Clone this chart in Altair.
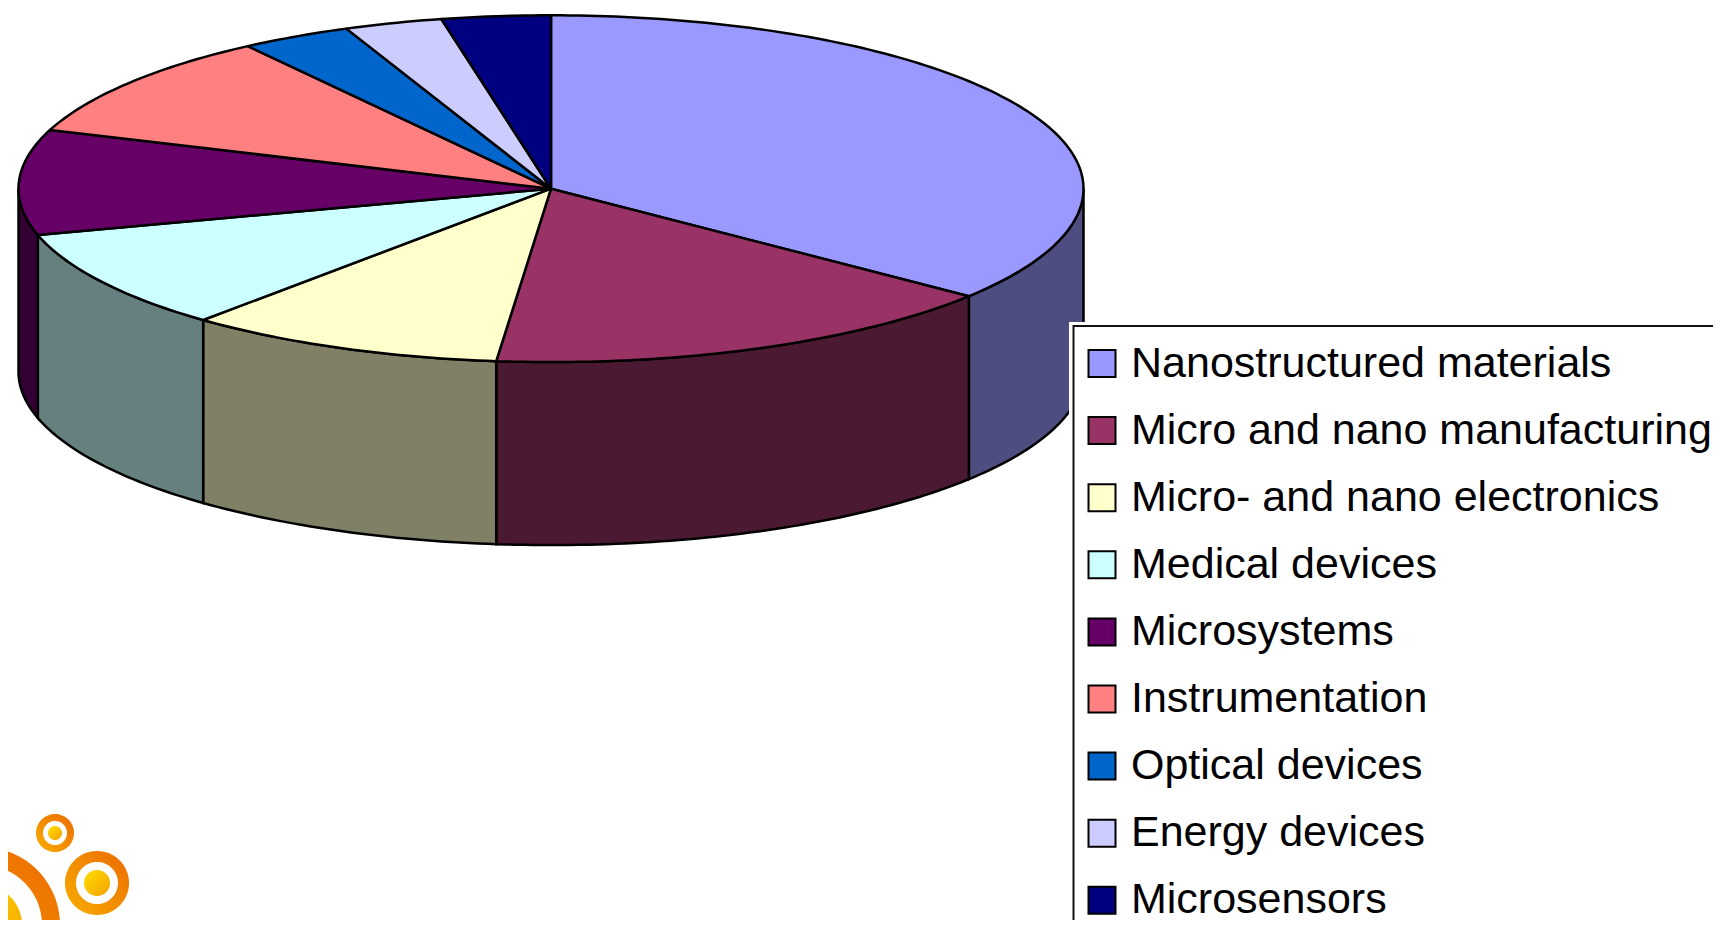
import math
import altair as alt

categories = ["Nanostructured materials", "Micro and nano manufacturing", "Micro- and nano electronics",
              "Medical devices", "Microsystems", "Instrumentation", "Optical devices", "Energy devices", "Microsensors"]
shares = [35.64, 16.0, 9.69, 9.37, 9.8, 9.86, 3.36, 2.98, 3.3]
top_colors = ["#9999FF", "#993366", "#FFFFCC", "#CCFFFF", "#660066", "#FF8080", "#0066CC", "#CCCCFF", "#000080"]
side_colors = ["#4D4D80", "#4C1933", "#808066", "#668080", "#330033", "#804040", "#003366", "#666680", "#000040"]

W, H = 1705, 912
OX, OY = 8, 8                 # page margin
CX, CY, RX, RY, DEPTH = 551 - OX, 188.7 - OY, 532.5, 173.4, 183


def pt(deg, dy=0.0):
    t = math.radians(deg)
    return [CX + RX * math.sin(t), CY - RY * math.cos(t) + dy]


def arc(a, b, dy=0.0):
    n = max(2, int(abs(b - a)) + 1)
    return [pt(a + (b - a) * i / n, dy) for i in range(n + 1)]


def feature(ring, **props):
    return {"type": "Feature", "properties": props,
            "geometry": {"type": "Polygon", "coordinates": [ring + [ring[0]]]}}


tops, walls = [], []
start = 0.0
for name, share, side in zip(categories, shares, side_colors):
    end = start + share * 3.6
    tops.append(feature([[CX, CY]] + arc(start, end), name=name))
    a, b = max(start, 90), min(end, 270)
    if b > a:
        walls.append(feature(arc(a, b) + arc(b, a, DEPTH), side=side))
    start = end


def circle(cx, cy, r):
    cx, cy = cx - OX, cy - OY
    return feature([[cx + r * math.cos(math.radians(d)), cy + r * math.sin(math.radians(d))] for d in range(0, 360, 4)])


def shapes(features):
    return alt.Chart(alt.Data(values=features)).project(type="identity", scale=1, translate=[0, 0])


ORANGE = alt.Gradient(gradient="linear", x1=1, y1=0, x2=0, y2=1,
                      stops=[alt.GradientStop(color="#EC6A00", offset=0), alt.GradientStop(color="#F8AE00", offset=1)])
YELLOW = alt.Gradient(gradient="linear", x1=0, y1=0, x2=1, y2=1,
                      stops=[alt.GradientStop(color="#FFE000", offset=0), alt.GradientStop(color="#F4A000", offset=1)])

logo_centres = [(55, 833), (97, 883), (-18, 925)]
logo_outer = [19, 32, 78]
logo_white = [12, 21, 60]
logo_inner = [7, 13, 40]

logo_layers = []
for (cx, cy), ro, rw, ri in zip(logo_centres, logo_outer, logo_white, logo_inner):
    logo_layers.append(shapes([circle(cx, cy, ro)]).mark_geoshape(fill=ORANGE, strokeWidth=0))
    logo_layers.append(shapes([circle(cx, cy, rw)]).mark_geoshape(fill="white", strokeWidth=0))
    logo_layers.append(shapes([circle(cx, cy, ri)]).mark_geoshape(fill=YELLOW, strokeWidth=0))

wall_layer = shapes(walls).mark_geoshape(stroke="black", strokeWidth=2.5).encode(
    fill=alt.Fill("properties.side:N", scale=None))

halo = [[1069 - OX, 322 - OY], [1721 - OX, 322 - OY], [1721 - OX, 928 - OY], [1069 - OX, 928 - OY]]
halo_layer = shapes([feature(halo)]).mark_geoshape(fill="white", strokeWidth=0)

top_layer = shapes(tops).mark_geoshape(stroke="black", strokeWidth=2.5, strokeJoin="round").encode(
    color=alt.Color(
        "properties.name:N",
        sort=categories,
        scale=alt.Scale(domain=categories, range=top_colors),
        legend=alt.Legend(
            title=None, orient="none", legendX=1073.5 - OX, legendY=326 - OY, zindex=1,
            fillColor="white", strokeColor="#111111", padding=16,
            symbolType="square", symbolSize=729, symbolStrokeColor="black", symbolStrokeWidth=2,
            symbolOffset=-9, symbolOpacity=1,
            labelFont="Liberation Sans", labelFontSize=43, labelColor="black",
            labelLimit=900, labelOffset=7.5, rowPadding=23.1, labelBaseline="middle",
        ),
    ))

chart = alt.layer(*logo_layers, wall_layer, halo_layer, top_layer).properties(
    width=W, height=H, padding=0, background="white",
    autosize=alt.AutoSizeParams(type="none"),
).configure_view(stroke=None).configure_legend(strokeWidth=2)

chart.save("out.html", embed_options={"renderer": "svg", "actions": False})
